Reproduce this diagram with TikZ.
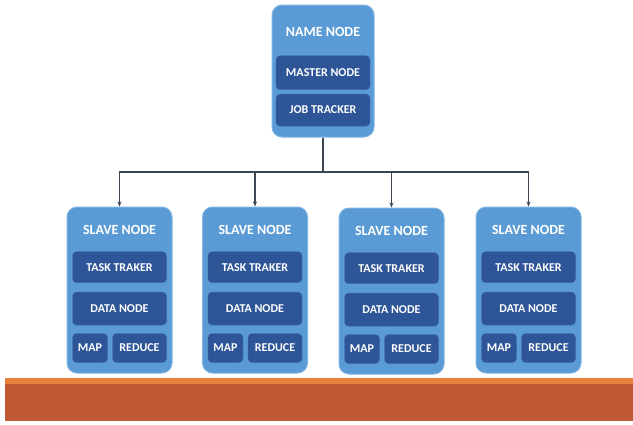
\documentclass[tikz,border=0pt]{standalone}
\usepackage{fontspec}
\setmainfont{Carlito}
\usetikzlibrary{arrows.meta, positioning}
\definecolor{nodeblue}{HTML}{5B9BD5}
\definecolor{nodeedge}{HTML}{7FB4E2}
\definecolor{innerblue}{HTML}{2E5597}
\definecolor{inneredge}{HTML}{3D68AD}
\definecolor{wire}{HTML}{3B4654}
\definecolor{floor}{HTML}{BF5835}
\definecolor{floortop}{HTML}{E8813C}
\tikzstyle{machine} = [rectangle, rounded corners=10pt, draw=nodeedge, line width=1pt,
                       fill=nodeblue, minimum width=105pt, minimum height=166pt, inner sep=0pt]
\tikzstyle{title}   = [text=white, font=\fontsize{14}{15}\selectfont\bfseries]
\tikzstyle{part}    = [rectangle, rounded corners=4pt, draw=inneredge, fill=innerblue,
                       text=white, font=\fontsize{12}{13}\selectfont\bfseries,
                       minimum width=94pt, minimum height=31pt, inner sep=0pt]
\tikzstyle{arrow}   = [-{Stealth[length=5pt,width=4pt]}, line width=1.1pt, color=wire]

\begin{document}
\begin{tikzpicture}[x=1pt, y=-1pt]
  \useasboundingbox (0,0) rectangle (633,424);

  %% Floor bar
  \fill[floor] (5,378) rectangle (633,421);
  \fill[floortop] (5,378) rectangle (633,384);

  %% Name node
  \node[machine, minimum width=102pt, minimum height=132pt] (name) at (323,71) {};
  \node[title] (name-title) at ([yshift=-27pt]name.north) {NAME NODE};
  \node[part, minimum height=34pt, below=51pt of name.north] (master) {MASTER NODE};
  \node[part, minimum height=32pt, below=4pt of master] (job) {JOB TRACKER};

  %% Slave node 1
  \node[machine] (slave1) at (119.5,290) {};
  \node[title] (slave1-title) at ([yshift=-23pt]slave1.north) {SLAVE NODE};
  \node[part, below=45pt of slave1.north] (task1) {TASK TRAKER};
  \node[part, minimum height=33pt, below=9pt of task1] (data1) {DATA NODE};
  \node[part, minimum width=35pt, minimum height=29pt, anchor=north west]
        (map1) at ([yshift=-8pt]data1.south west) {MAP};
  \node[part, minimum width=54pt, minimum height=29pt, anchor=north east]
        (reduce1) at ([yshift=-8pt]data1.south east) {REDUCE};

  %% Slave node 2
  \node[machine] (slave2) at (255,290) {};
  \node[title] (slave2-title) at ([yshift=-23pt]slave2.north) {SLAVE NODE};
  \node[part, below=45pt of slave2.north] (task2) {TASK TRAKER};
  \node[part, minimum height=33pt, below=9pt of task2] (data2) {DATA NODE};
  \node[part, minimum width=35pt, minimum height=29pt, anchor=north west]
        (map2) at ([yshift=-8pt]data2.south west) {MAP};
  \node[part, minimum width=54pt, minimum height=29pt, anchor=north east]
        (reduce2) at ([yshift=-8pt]data2.south east) {REDUCE};

  %% Slave node 3
  \node[machine] (slave3) at (391.5,291) {};
  \node[title] (slave3-title) at ([yshift=-23pt]slave3.north) {SLAVE NODE};
  \node[part, below=45pt of slave3.north] (task3) {TASK TRAKER};
  \node[part, minimum height=33pt, below=9pt of task3] (data3) {DATA NODE};
  \node[part, minimum width=35pt, minimum height=29pt, anchor=north west]
        (map3) at ([yshift=-8pt]data3.south west) {MAP};
  \node[part, minimum width=54pt, minimum height=29pt, anchor=north east]
        (reduce3) at ([yshift=-8pt]data3.south east) {REDUCE};

  %% Slave node 4
  \node[machine] (slave4) at (528.5,290) {};
  \node[title] (slave4-title) at ([yshift=-23pt]slave4.north) {SLAVE NODE};
  \node[part, below=45pt of slave4.north] (task4) {TASK TRAKER};
  \node[part, minimum height=33pt, below=9pt of task4] (data4) {DATA NODE};
  \node[part, minimum width=35pt, minimum height=29pt, anchor=north west]
        (map4) at ([yshift=-8pt]data4.south west) {MAP};
  \node[part, minimum width=54pt, minimum height=29pt, anchor=north east]
        (reduce4) at ([yshift=-8pt]data4.south east) {REDUCE};

  %% Connectors
  \coordinate (bus) at (323,172);
  \draw[line width=1.1pt, color=wire] (name.south) -- (bus);
  \draw[arrow] (bus) -| (slave1.north);
  \draw[arrow] (bus) -| (slave2.north);
  \draw[arrow] (bus) -| (slave3.north);
  \draw[arrow] (bus) -| (slave4.north);

\end{tikzpicture}
\end{document}
